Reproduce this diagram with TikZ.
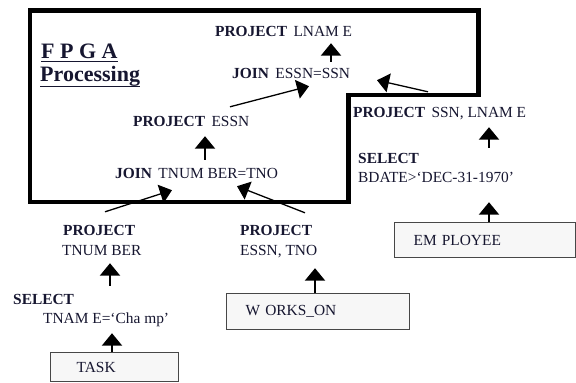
\documentclass[tikz,border=0pt]{standalone}
\usepackage{fontspec}
\setmainfont{Liberation Serif}
\usetikzlibrary{arrows.meta,calc}
\definecolor{ink}{RGB}{22,22,48}
\newcommand{\opgap}{\hspace{6.5pt}}
\begin{document}
\begin{tikzpicture}[x=1pt,y=-1pt,
  lbl/.style={anchor=base west,inner sep=0pt,text=ink,
    font=\fontsize{15.4}{18}\selectfont,text height=10pt,text depth=3pt},
  title/.style={anchor=base west,inner sep=0pt,text=ink,
    font=\fontsize{22}{26}\selectfont\bfseries},
  relbox/.style={draw=black!72,line width=1.3pt,fill=black!3,anchor=north west,
    text=ink,font=\fontsize{15.4}{18}\selectfont,align=left,inner ysep=0pt},
  uparrow/.style={line width=2.2pt,draw=black,
    -{Triangle[width=20pt,length=12.5pt]}},
  slantarrow/.style={line width=1.3pt,draw=black,
    -{Triangle[width=19pt,length=12pt]}},
  fpgaframe/.style={line width=4.6pt,line join=miter,draw=black}]
\useasboundingbox (0,0) rectangle (576,383);

% FPGA region outline
\draw[fpgaframe] (30,10.5) -- (478.5,10.5) -- (478.5,95) -- (348.5,95)
  -- (348.5,202) -- (30,202) -- cycle;

% heading
\node[title] (fpga) at (41,58) {F P G A};
\node[title] (proc) at (40,81) {Processing};
\draw[line width=1.7pt,ink] ($(fpga.base west)+(0,3.5)$) -- ($(fpga.base east)+(0,3.5)$);
\draw[line width=1.7pt,ink] ($(proc.base west)+(0,5.5)$) -- ($(proc.base east)+(0,5.5)$);

% operators inside the FPGA region
\node[lbl] (proj1) at (215,36) {\textbf{PROJECT}\opgap LNAM E};
\node[lbl] (join2) at (232,78) {\textbf{JOIN}\opgap ESSN=SSN};
\node[lbl] (projE) at (133,126) {\textbf{PROJECT}\opgap ESSN};
\node[lbl] (join1) at (115,178) {\textbf{JOIN}\opgap TNUM BER=TNO};

% operators outside
\node[lbl] (projSL) at (353,117) {\textbf{PROJECT}\opgap SSN, LNAM E};
\node[lbl] (sel2) at (358,163) {\textbf{SELECT}};
\node[lbl] (bd) at (358,182) {BDATE>‘DEC-31-1970’};
\node[lbl] (projA) at (63,235) {\textbf{PROJECT}};
\node[lbl] (tnum) at (62,255) {TNUM BER};
\node[lbl] (projB) at (240,235) {\textbf{PROJECT}};
\node[lbl] (essntno) at (240,255) {ESSN, TNO};
\node[lbl] (sel1) at (13,304) {\textbf{SELECT}};
\node[lbl] (tname) at (43,323) {TNAM E=‘Cha mp’};

% relations
\node[relbox,inner xsep=26pt,text width=76pt,minimum height=29pt] (task) at (50,352) {TASK};
\node[relbox,inner xsep=19pt,text width=145pt,minimum height=36pt] (works) at (226,293) {W ORKS\_ON};
\node[relbox,inner xsep=19pt,text width=143pt,minimum height=35pt] (emp) at (394,222) {EM PLOYEE};

% data flow
\draw[uparrow] ($(join2.north west)+(99,-6)$) -- ($(proj1.south west)+(116,4)$);
\draw[slantarrow] ($(projE.north west)+(97,-9)$) -- ($(join2.south west)+(77,5)$);
\draw[slantarrow] ($(projSL.north west)+(75,-15)$) -- ($(join2.south west)+(145,-1)$);
\draw[uparrow] ($(join1.north west)+(90,-8)$) -- ($(projE.south west)+(72,7)$);
\draw[slantarrow] ($(projA.north west)+(42,-13)$) -- ($(join1.south west)+(57,9)$);
\draw[slantarrow] ($(projB.north west)+(65,-12)$) -- ($(join1.south west)+(122,5)$);
\draw[uparrow] ($(sel1.north west)+(97,-8)$) -- ($(tnum.south west)+(48,5)$);
\draw[uparrow] ($(task.north west)+(62,0)$) -- ($(tname.south west)+(69,7)$);
\draw[uparrow] ($(works.north west)+(89,0)$) -- ($(essntno.south west)+(75,10)$);
\draw[uparrow] ($(sel2.north west)+(131,-5)$) -- ($(projSL.south west)+(136,7)$);
\draw[uparrow] ($(emp.north west)+(95,0)$) -- ($(bd.south west)+(131,17)$);
\end{tikzpicture}
\end{document}
